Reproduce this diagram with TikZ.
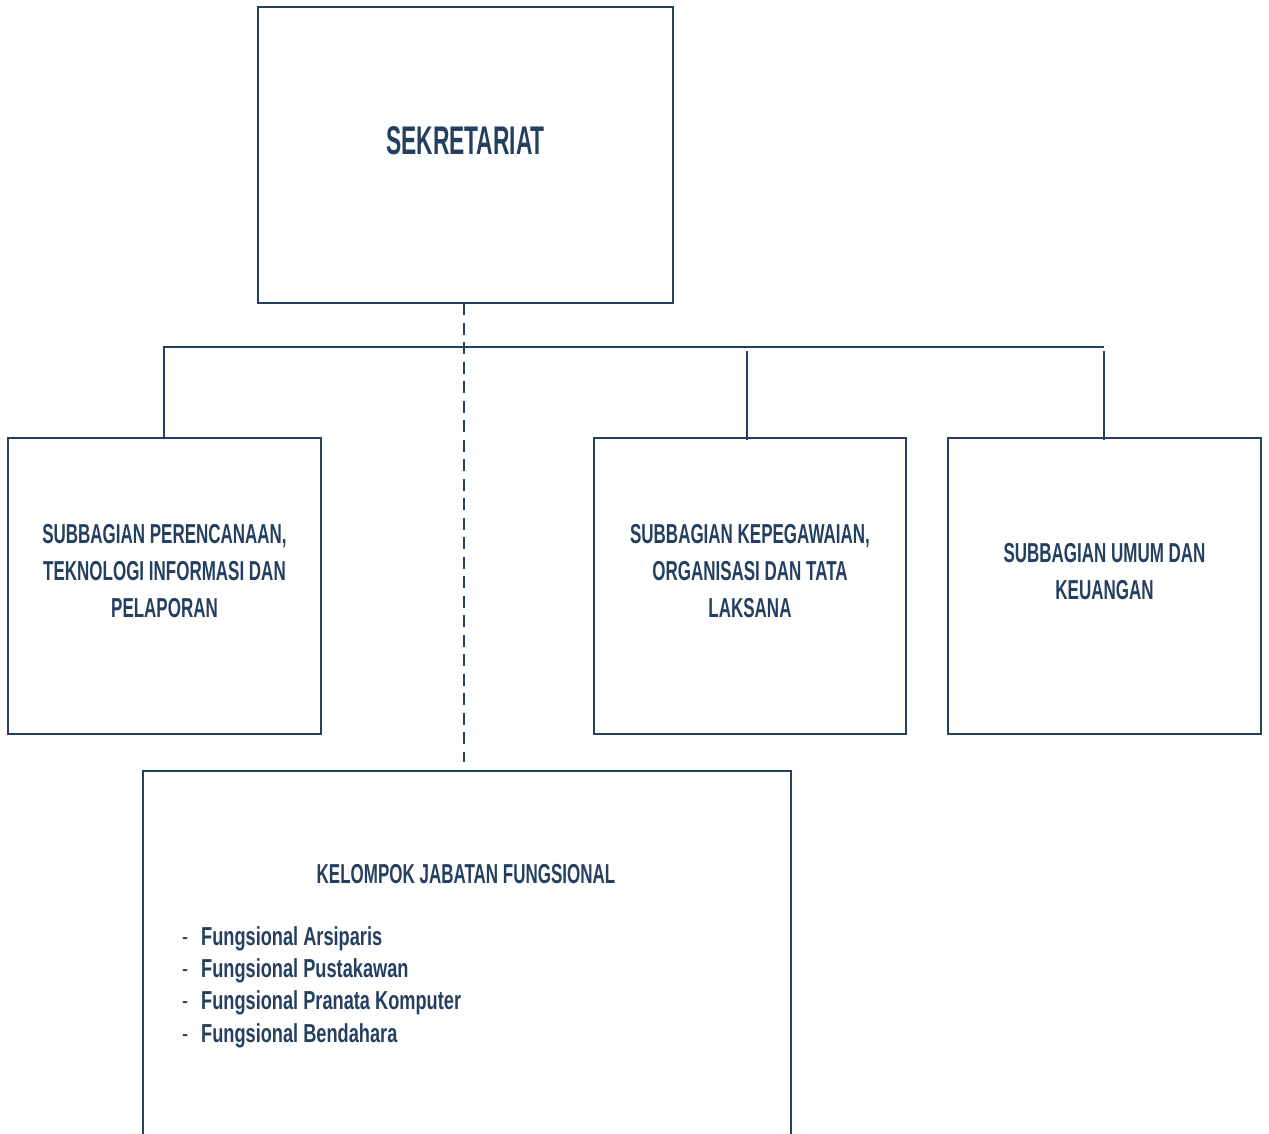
\documentclass[tikz,border=0pt]{standalone}
\usepackage{fontspec}
\setmainfont{Liberation Sans}
\newfontfamily\agencyt[FakeStretch=0.57]{Liberation Sans}
\newfontfamily\agency[FakeStretch=0.62]{Liberation Sans}
\newfontfamily\agencyl[FakeStretch=0.70]{Liberation Sans}
\definecolor{navy}{HTML}{243F60}
\begin{document}
\begin{tikzpicture}[x=1pt,y=-1pt,
  box/.style={draw=navy, line width=2pt, rectangle, inner sep=0pt},
  conn/.style={draw=navy, line width=2pt},
  dconn/.style={draw=navy, line width=2.8pt, dash pattern=on 12pt off 7.5pt},
  title/.style={text=navy, inner sep=0pt, font=\agencyt\bfseries\fontsize{40}{46}\selectfont},
  lbl/.style={text=navy, inner sep=0pt, align=center, font=\agency\bfseries\fontsize{27.4}{37}\selectfont},
  items/.style={text=navy, inner sep=0pt, align=left, font=\agencyl\bfseries\fontsize{26}{32.3}\selectfont}]
\useasboundingbox (0,0) rectangle (1269,1133);
% boxes
\node[box, minimum width=415pt, minimum height=296pt] (sek) at (465.5,155) {};
\node[box, minimum width=313pt, minimum height=296pt] (b1) at (164.5,586) {};
\node[box, minimum width=312pt, minimum height=296pt] (b2) at (750,586) {};
\node[box, minimum width=313pt, minimum height=296pt] (b3) at (1104.5,586) {};
\node[box, minimum width=648pt, minimum height=400pt] (kel) at (467,971) {};
% texts
\node[title] (tsek) at (465.5,141) {SEKRETARIAT};
\node[lbl] (t1) at (164.5,571) {SUBBAGIAN PERENCANAAN,\\TEKNOLOGI INFORMASI DAN\\PELAPORAN};
\node[lbl] (t2) at (750,571) {SUBBAGIAN KEPEGAWAIAN,\\ORGANISASI DAN TATA\\LAKSANA};
\node[lbl] (t3) at (1104.5,571.5) {SUBBAGIAN UMUM DAN\\KEUANGAN};
\node[lbl] (tkel) at (466,874) {KELOMPOK JABATAN FUNGSIONAL};
\node[items, anchor=west] (list) at (182,987) {%
  {\mdseries\makebox[19pt][l]{-}}Fungsional Arsiparis\\
  {\mdseries\makebox[19pt][l]{-}}Fungsional Pustakawan\\
  {\mdseries\makebox[19pt][l]{-}}Fungsional Pranata Komputer\\
  {\mdseries\makebox[19pt][l]{-}}Fungsional Bendahara};
% connectors
\coordinate (barL) at (164,347);
\coordinate (barR) at (1104,347);
\coordinate (j2) at (747,351);
\coordinate (j3) at (1104,351);
\coordinate (dtop) at (464,303);
\coordinate (dbot) at (464,762);
\draw[conn] (b1.north -| barL) -- (barL) -- (barR);
\draw[conn] (j2) -- ([yshift=-3pt]j2 |- b2.north);
\draw[conn] (j3) -- ([yshift=-3pt]j3 |- b3.north);
\draw[dconn] (dtop) -- (dbot);
\end{tikzpicture}
\end{document}
